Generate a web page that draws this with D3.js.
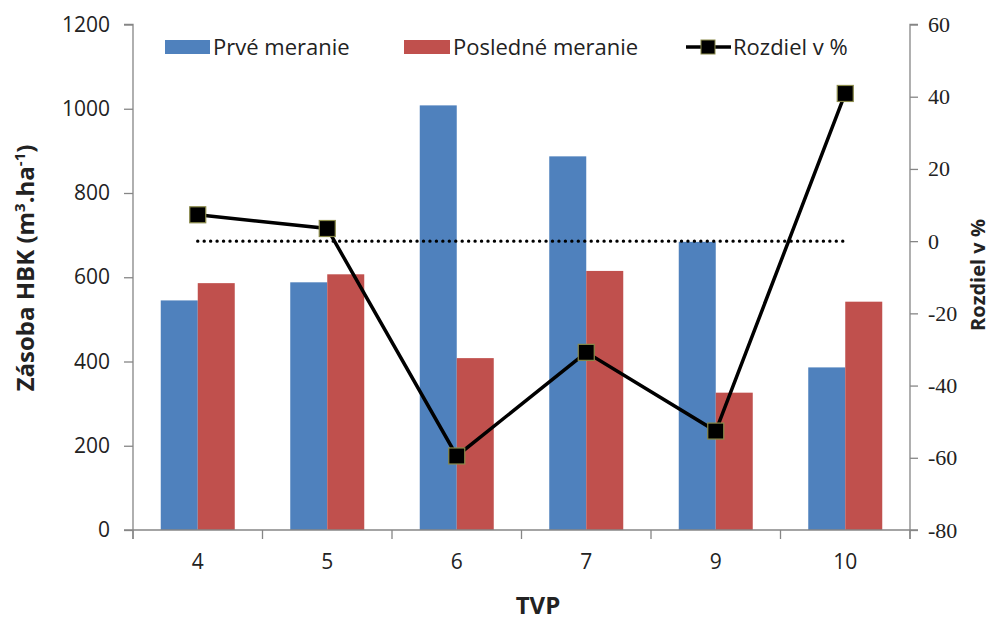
<!DOCTYPE html>
<html lang="sk">
<head>
<meta charset="utf-8">
<title>Zásoba HBK</title>
<script src="https://cdn.jsdelivr.net/npm/d3@7/dist/d3.min.js"></script>
<style>
  body { margin: 0; background: #fff; }
  svg text { font-family: "Open Sans", "Liberation Sans", sans-serif; fill: #222; }
</style>
</head>
<body>
<div id="chart"></div>
<script>
(function(d3) {
  'use strict';

  // data
  var categories = ['4', '5', '6', '7', '9', '10'];
  var prve = [545, 588, 1008, 887, 684, 386];
  var posledne = [586, 607, 408, 615, 326, 542];
  var rozdiel = [7.3, 3.5, -59.5, -30.8, -52.6, 40.9];
  var zeroLine = [0, 0, 0, 0, 0, 0];
  var leftTicks = [0, 200, 400, 600, 800, 1000, 1200];
  var rightTicks = [-80, -60, -40, -20, 0, 20, 40, 60];

  var width = 996, height = 622;
  var left = 133, right = 910, top = 24.5, bottom = 530;

  var svg = d3.select('#chart').append('svg')
    .attr('width', width)
    .attr('height', height);

  var x = d3.scaleBand().domain(categories).range([left, right]).paddingInner(0).paddingOuter(0);
  var xs = d3.scaleBand().domain(['a', 'b']).range([0, x.bandwidth()]).paddingInner(0).paddingOuter(0.75);
  var y = d3.scaleLinear().domain([0, 1200]).range([bottom, top]);
  var y2 = d3.scaleLinear().domain([-80, 60]).range([bottom, top]);

  // bars
  var groups = svg.selectAll('g.grp')
    .data(categories)
    .enter().append('g')
    .attr('class', 'grp')
    .attr('transform', function(d) { return 'translate(' + x(d) + ',0)'; });

  groups.append('rect')
    .attr('x', xs('a'))
    .attr('width', xs.bandwidth())
    .attr('y', function(d, i) { return y(prve[i]); })
    .attr('height', function(d, i) { return y(0) - y(prve[i]); })
    .attr('fill', '#4f81bd');

  groups.append('rect')
    .attr('x', xs('b'))
    .attr('width', xs.bandwidth())
    .attr('y', function(d, i) { return y(posledne[i]); })
    .attr('height', function(d, i) { return y(0) - y(posledne[i]); })
    .attr('fill', '#c0504d');

  // axes
  var axisColor = '#868686';
  var gl = svg.append('g')
    .attr('transform', 'translate(' + left + ',0)')
    .call(d3.axisLeft(y).tickValues(leftTicks).tickSize(9).tickPadding(14).tickFormat(d3.format('d')));
  var gr = svg.append('g')
    .attr('transform', 'translate(' + right + ',0)')
    .call(d3.axisRight(y2).tickValues(rightTicks).tickSize(8).tickPadding(10).tickFormat(function(d) { return d; }));
  var gx = svg.append('g')
    .attr('transform', 'translate(0,' + bottom + ')')
    .call(d3.axisBottom(x).tickSize(0).tickPadding(24));

  [gl, gr, gx].forEach(function(g) {
    g.select('.domain').attr('stroke', axisColor).attr('stroke-width', 1.3);
    g.selectAll('.tick line').attr('stroke', axisColor).attr('stroke-width', 1.3);
    g.selectAll('.tick text').style('font-size', '21px').attr('fill', '#333');
  });
  gl.select('.domain').attr('d', 'M-9,' + top + 'H0V' + (bottom + 9));
  gr.select('.domain').attr('d', 'M8,' + top + 'H0V' + (bottom + 9));
  gx.select('.domain').attr('d', 'M' + (left - 9) + ',0H' + (right + 8));
  gr.selectAll('.tick text').style('font-family', '"Liberation Serif", serif').style('font-size', '22px');

  // category boundary ticks
  svg.append('g').selectAll('line')
    .data(categories.concat(['end']))
    .enter().append('line')
    .attr('x1', function(d, i) { return i < categories.length ? x(d) : right; })
    .attr('x2', function(d, i) { return i < categories.length ? x(d) : right; })
    .attr('y1', bottom)
    .attr('y2', bottom + 9)
    .attr('stroke', axisColor)
    .attr('stroke-width', 1.3);

  var cx = function(d, i) { return x(categories[i]) + x.bandwidth() / 2; };

  // dotted zero series
  svg.append('path')
    .datum(zeroLine)
    .attr('d', d3.line().x(cx).y(function(d) { return y2(d); }))
    .attr('fill', 'none')
    .attr('stroke', '#000')
    .attr('stroke-width', 3.4)
    .attr('stroke-linecap', 'round')
    .attr('stroke-dasharray', '0,6.45');

  // difference line
  svg.append('path')
    .datum(rozdiel)
    .attr('d', d3.line().x(cx).y(function(d) { return y2(d); }))
    .attr('fill', 'none')
    .attr('stroke', '#000')
    .attr('stroke-width', 3.5);

  var ms = 16;
  svg.selectAll('rect.mk')
    .data(rozdiel)
    .enter().append('rect')
    .attr('class', 'mk')
    .attr('x', function(d, i) { return cx(d, i) - ms / 2; })
    .attr('y', function(d) { return y2(d) - ms / 2; })
    .attr('width', ms)
    .attr('height', ms)
    .attr('fill', '#000')
    .attr('stroke', '#8a8a4a')
    .attr('stroke-width', 1.2);

  // axis titles
  svg.append('text')
    .attr('transform', 'translate(34,268) rotate(-90)')
    .attr('text-anchor', 'middle')
    .style('font-size', '24px')
    .style('font-weight', 'bold')
    .html('Zásoba HBK (m<tspan dy="-9" font-size="15">3</tspan><tspan dy="9">.ha</tspan><tspan dy="-9" font-size="15">-1</tspan><tspan dy="9">)</tspan>');

  svg.append('text')
    .attr('transform', 'translate(978,275) rotate(-90)')
    .attr('dy', '0.35em')
    .attr('text-anchor', 'middle')
    .style('font-size', '20px')
    .style('font-weight', 'bold')
    .text('Rozdiel v %');

  svg.append('text')
    .attr('x', 538)
    .attr('y', 614)
    .attr('text-anchor', 'middle')
    .style('font-size', '24px')
    .style('font-weight', 'bold')
    .text('TVP');

  // legend
  var legY = 47;
  var leg = svg.append('g');
  leg.append('rect').attr('x', 165).attr('y', legY - 7).attr('width', 45).attr('height', 14).attr('fill', '#4f81bd');
  leg.append('text').attr('x', 213).attr('y', legY).attr('dy', '0.35em').style('font-size', '22px').text('Prvé meranie');
  leg.append('rect').attr('x', 404).attr('y', legY - 7).attr('width', 46).attr('height', 14).attr('fill', '#c0504d');
  leg.append('text').attr('x', 453).attr('y', legY).attr('dy', '0.35em').style('font-size', '22px').text('Posledné meranie');
  leg.append('line').attr('x1', 686).attr('x2', 731).attr('y1', legY).attr('y2', legY).attr('stroke', '#000').attr('stroke-width', 3.5);
  leg.append('rect').attr('x', 701).attr('y', legY - 7).attr('width', 14).attr('height', 14).attr('fill', '#000').attr('stroke', '#8a8a4a');
  leg.append('text').attr('x', 733).attr('y', legY).attr('dy', '0.35em').style('font-size', '22px').text('Rozdiel v %');

})(window.d3);
</script>
</body>
</html>
